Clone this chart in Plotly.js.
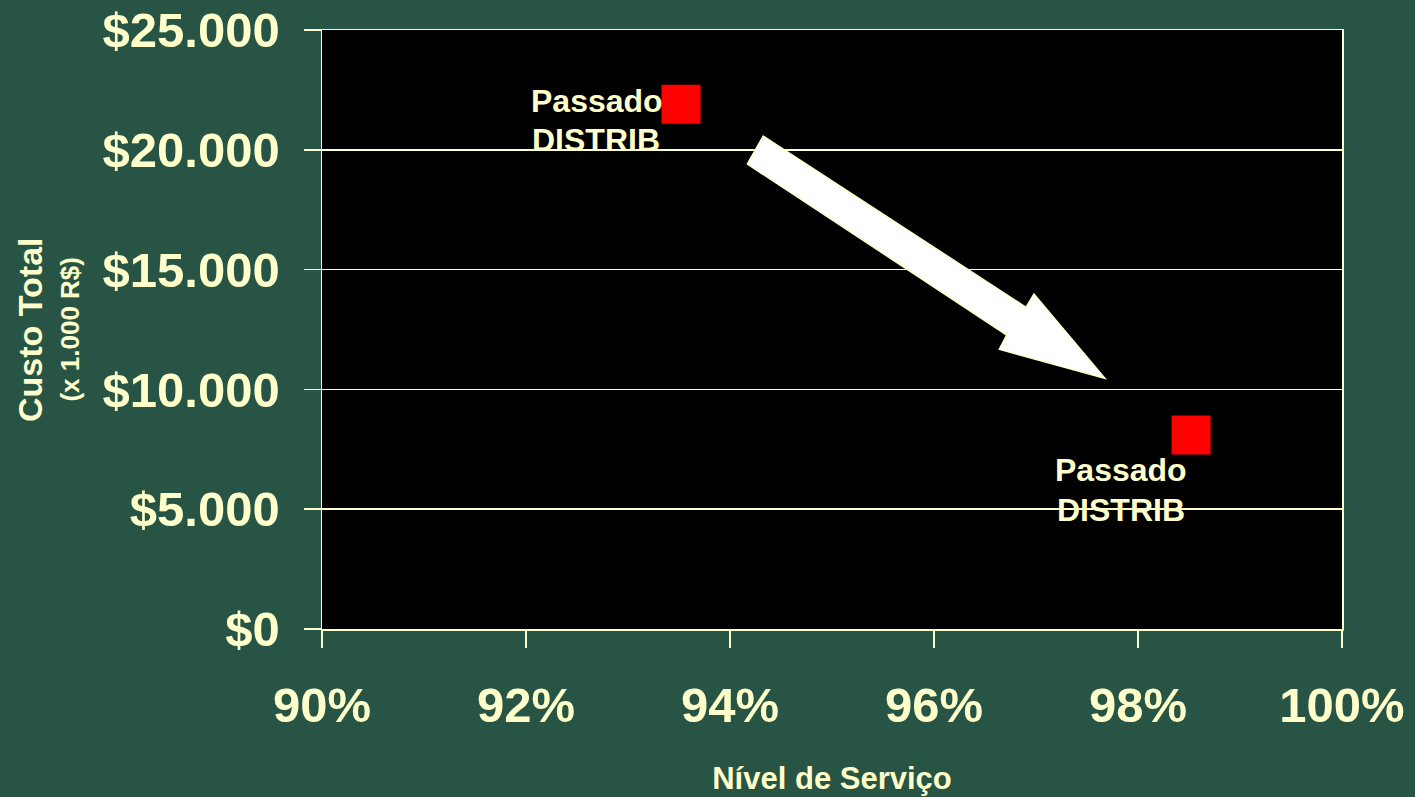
<!DOCTYPE html>
<html>
<head>
<meta charset="utf-8">
<script src="https://cdn.plot.ly/plotly-3.0.1.min.js"></script>
<style>
  html, body { margin: 0; padding: 0; background: #275444; }
  #chart { width: 1415px; height: 797px; }
</style>
</head>
<body>
<div id="chart"></div>
<script>
// ---- data ----
const serviceLevel = [0.9352, 0.9852];        // Nível de Serviço
const totalCost = [21900, 8100];              // Custo Total (x 1.000 R$)
const pointLabelLines = [['Passado', 'DISTRIB'], ['Passado', 'DISTRIB']];
const xTickVals = [0.90, 0.92, 0.94, 0.96, 0.98, 1.00];
const xTickText = ['90%', '92%', '94%', '96%', '98%', '100%'];
const yTickVals = [0, 5000, 10000, 15000, 20000, 25000];
const yTickText = ['$0', '$5.000', '$10.000', '$15.000', '$20.000', '$25.000'];

// ---- styling ----
const BG = '#275444';
const CREAM = '#FFFFCC';
const FONT = '"Liberation Sans", Arial, sans-serif';

// label line placement (pixel offsets relative to each point)
const labelOffsets = [
  [{ xshift: -152, yshift: 3.5 }, { xshift: -151, yshift: -35.5 }],
  [{ xshift: -138, yshift: -35 }, { xshift: -136, yshift: -75 }]
];

const trace = {
  type: 'scatter',
  mode: 'markers',
  x: serviceLevel,
  y: totalCost,
  marker: { symbol: 'square', size: 39, color: '#FF0000', line: { width: 0 } },
  hoverinfo: 'x+y',
  cliponaxis: false
};

const annotations = [];
serviceLevel.forEach((xv, i) => {
  pointLabelLines[i].forEach((line, j) => {
    annotations.push({
      x: xv, y: totalCost[i], xref: 'x', yref: 'y',
      text: line, showarrow: false, align: 'left',
      xanchor: 'left', yanchor: 'middle',
      xshift: labelOffsets[i][j].xshift, yshift: labelOffsets[i][j].yshift,
      font: { family: FONT, size: 32, color: CREAM, weight: 700 }
    });
  });
});

annotations.push({
  xref: 'paper', yref: 'paper', x: -0.2868, y: 0.5,
  text: 'Custo Total', textangle: -90, showarrow: false,
  xanchor: 'center', yanchor: 'middle',
  font: { family: FONT, size: 34, color: CREAM, weight: 700 }
});
annotations.push({
  xref: 'paper', yref: 'paper', x: -0.248, y: 0.5,
  text: '(x 1.000 R$)', textangle: -90, showarrow: false,
  xanchor: 'center', yanchor: 'middle',
  font: { family: FONT, size: 26, color: CREAM, weight: 700 }
});

// decorative block arrow (paper coordinates)
const arrowPts = [
  [0.4326, 0.8230], [0.6902, 0.5371], [0.6980, 0.5593], [0.7676, 0.4185],
  [0.6640, 0.4669], [0.6713, 0.4908], [0.4170, 0.7763]
];
const arrowPath = 'M ' + arrowPts.map(p => p[0] + ',' + p[1]).join(' L ') + ' Z';

const layout = {
  width: 1415, height: 797,
  paper_bgcolor: BG,
  plot_bgcolor: '#000000',
  margin: { l: 322, r: 73, t: 30, b: 168, pad: 0 },
  showlegend: false,
  font: { family: FONT, color: CREAM },
  xaxis: {
    range: [0.90, 1.00],
    tickvals: xTickVals, ticktext: xTickText,
    showgrid: false, zeroline: false,
    showline: true, linecolor: CREAM, linewidth: 1.5, mirror: true,
    ticks: 'outside', ticklen: 17, tickwidth: 1.5, tickcolor: CREAM,
    ticklabelstandoff: 16,
    tickfont: { family: FONT, size: 49, color: CREAM, weight: 700 },
    title: { text: 'Nível de Serviço', standoff: 36,
             font: { family: FONT, size: 31, color: CREAM, weight: 700 } },
    fixedrange: true
  },
  yaxis: {
    range: [0, 25000],
    tickvals: yTickVals, ticktext: yTickText,
    showgrid: true, gridcolor: CREAM, gridwidth: 1.5,
    zeroline: false,
    showline: true, linecolor: CREAM, linewidth: 1.5, mirror: true,
    ticks: 'outside', ticklen: 17, tickwidth: 1.5, tickcolor: CREAM,
    ticklabelstandoff: 14,
    tickfont: { family: FONT, size: 49, color: CREAM, weight: 700 },
    fixedrange: true
  },
  annotations: annotations,
  shapes: [{
    type: 'path', xref: 'paper', yref: 'paper', layer: 'above',
    path: arrowPath, fillcolor: '#FFFFFF',
    line: { color: CREAM, width: 1.5 }
  }]
};

Plotly.newPlot('chart', [trace], layout, { displayModeBar: false, staticPlot: true });
</script>
</body>
</html>
